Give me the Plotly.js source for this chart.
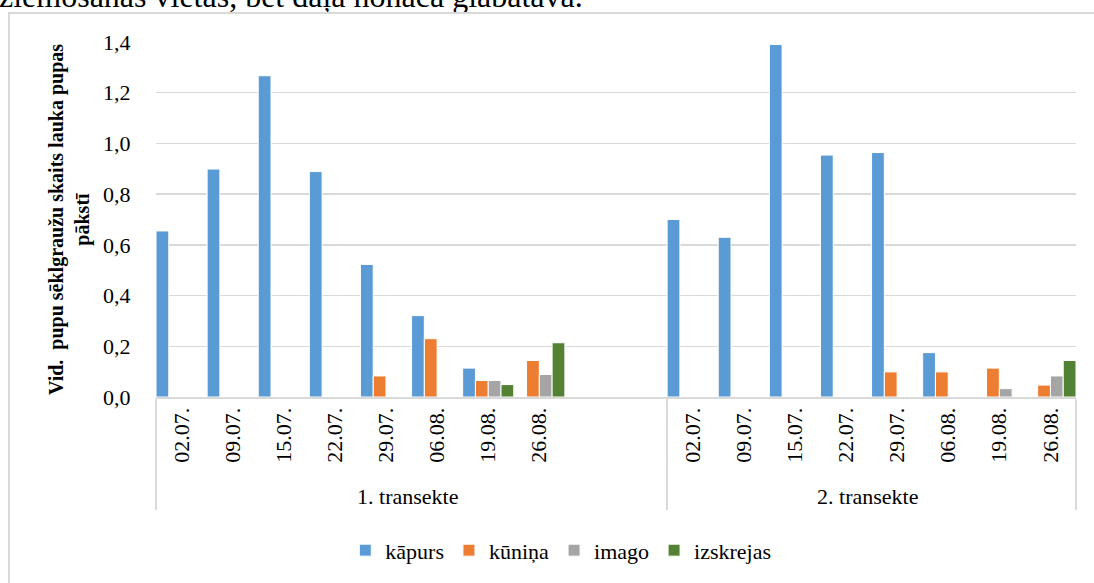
<!DOCTYPE html>
<html>
<head>
<meta charset="utf-8">
<script src="https://cdn.plot.ly/plotly-3.0.1.min.js"></script>
<style>
  html, body { margin: 0; padding: 0; background: #fff; width: 1094px; height: 583px; overflow: hidden; position: relative; }
  #toptext { position: absolute; left: -1px; top: -20px; font-family: "Liberation Serif", serif; font-size: 32px; line-height: 32px; color: #000; white-space: nowrap; }
  #frame { position: absolute; left: 8px; top: 12px; width: 1200px; height: 700px; border-left: 2px solid #d9d9d9; border-top: 2px solid #d9d9d9; box-sizing: border-box; }
  #chart { position: absolute; left: 0; top: 0; width: 1094px; height: 583px; }
</style>
</head>
<body>
<div id="toptext">ziemošanas vietas, bet daļa nonāca glabātavā.</div>
<div id="frame"></div>
<div id="chart"></div>
<script>
// Category levels
const groups = ['1. transekte', '2. transekte'];
const dates1 = ['02.07.', '09.07.', '15.07.', '22.07.', '29.07.', '06.08.', '19.08.', '26.08.', '\u00a0', '\u00a0\u00a0'];
const dates2 = ['02.07.', '09.07.', '15.07.', '22.07.', '29.07.', '06.08.', '19.08.', '26.08.'];

// Series names
const seriesNames = ['kāpurs', 'kūniņa', 'imago', 'izskrejas'];

// 1. transekte values
const kapurs1    = [0.655, 0.899, 1.267, 0.889, 0.523, 0.321, 0.114, null, null, null];
const kunina1    = [null, null, null, null, 0.083, 0.230, 0.065, 0.144, null, null];
const imago1     = [null, null, null, null, null, null, 0.065, 0.089, null, null];
const izskrejas1 = [null, null, null, null, null, null, 0.049, 0.214, null, null];

// 2. transekte values
const kapurs2    = [0.700, 0.630, 1.390, 0.954, 0.964, 0.175, null, null];
const kunina2    = [null, null, null, null, 0.099, 0.099, 0.114, 0.047];
const imago2     = [null, null, null, null, null, null, 0.033, 0.083];
const izskrejas2 = [null, null, null, null, null, null, null, 0.144];

// Y tick values
const yTicks = [0, 0.2, 0.4, 0.6, 0.8, 1.0, 1.2, 1.4];

const colors = ['#5b9bd5', '#ed7d31', '#a5a5a5', '#548235'];

const outer = dates1.map(() => groups[0]).concat(dates2.map(() => groups[1]));
const inner = dates1.concat(dates2);

const ys = [
  kapurs1.concat(kapurs2),
  kunina1.concat(kunina2),
  imago1.concat(imago2),
  izskrejas1.concat(izskrejas2)
];

const traces = ys.map((y, i) => ({
  type: 'bar',
  name: seriesNames[i],
  x: [outer, inner],
  y: y,
  marker: { color: colors[i], line: { color: '#ffffff', width: 1 } },
  hoverinfo: 'skip'
}));

const fontFam = 'Liberation Serif, Times New Roman, serif';

const layout = {
  width: 1094,
  height: 583,
  paper_bgcolor: 'rgba(0,0,0,0)',
  plot_bgcolor: 'rgba(0,0,0,0)',
  separators: ', ',
  barmode: 'group',
  bargap: 0,
  bargroupgap: 0,
  margin: { l: 156, r: 18, t: 42, b: 186, pad: 0 },
  font: { family: fontFam, size: 22, color: '#000' },
  xaxis: {
    type: 'multicategory',
    showgrid: false,
    showline: true,
    linecolor: '#d9d9d9',
    linewidth: 2,
    ticks: '',
    tickangle: -90,
    tickfont: { family: fontFam, size: 22, color: '#000' },
    showdividers: true,
    dividercolor: '#d9d9d9',
    dividerwidth: 2,
    automargin: false
  },
  yaxis: {
    range: [0, 1.4],
    tickvals: yTicks,
    tickformat: '.1f',
    showgrid: true,
    gridcolor: '#d9d9d9',
    gridwidth: 1.5,
    zeroline: false,
    showline: false,
    ticks: 'outside',
    ticklen: 20,
    tickcolor: 'rgba(0,0,0,0)',
    tickfont: { family: fontFam, size: 22, color: '#000' },
    automargin: false,
    title: {
      text: 'Vid.\u00a0 pupu sēklgraužu skaits lauka pupas<br>pākstī',
      font: { family: fontFam, size: 20, color: '#000', weight: 'bold' },
      standoff: 8
    }
  },
  showlegend: true,
  legend: {
    orientation: 'h',
    x: 0.44,
    xanchor: 'center',
    y: -0.432,
    yanchor: 'middle',
    font: { family: fontFam, size: 22, color: '#000' },
    bgcolor: 'rgba(0,0,0,0)',
    itemwidth: 30,
    traceorder: 'normal'
  }
};

Plotly.newPlot('chart', traces, layout, { displayModeBar: false, staticPlot: true });
</script>
</body>
</html>
